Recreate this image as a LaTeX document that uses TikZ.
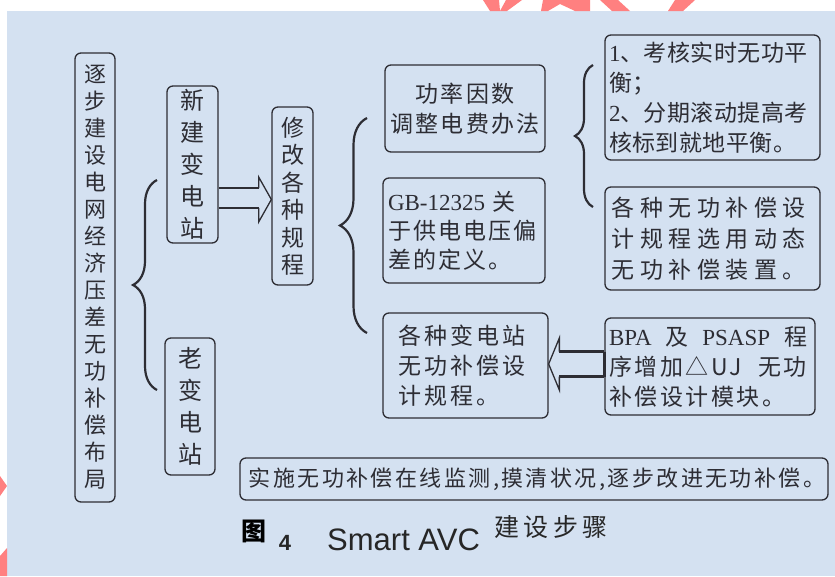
\documentclass[tikz,border=0pt]{standalone}
\usepackage{fontspec}
\setmainfont{Liberation Serif}
\newfontfamily\cjk{Noto Sans CJK SC}
\newfontfamily\capsans{Liberation Sans}
\usetikzlibrary{decorations.pathreplacing,calc}
\definecolor{bg}{RGB}{212,225,241}
\definecolor{ink}{RGB}{45,45,52}
\definecolor{wm}{RGB}{255,128,128}
\newcommand{\cz}[3]{\cjk\fontsize{#1}{#2}\selectfont\addfontfeatures{LetterSpace=#3}}
\tikzset{
  box/.style={draw=ink, line width=1.3pt, rounded corners=6pt, inner sep=0pt, text=ink},
  vbox/.style={box, align=center},
  tbox/.style={box, align=left},
  bracestyle/.style={draw=ink, line width=2.2pt, decorate, decoration={brace, amplitude=#1}},
  shaft/.style={draw=ink, line width=2.4pt},
  head/.style={draw=ink, line width=1.3pt, line join=miter},
}
\begin{document}
\begin{tikzpicture}[x=1pt,y=1pt]
\useasboundingbox (0,0) rectangle (835,-576);
\fill[white] (0,0) rectangle (835,-576);
\fill[bg] (7,-11) rectangle (835,-576);
% watermark remnants
\fill[wm] (483,0) -- (499,0) -- (500,-11) -- (490,-11) -- cycle;
\fill[wm] (506,0) -- (522,0) -- (507,-11) -- (500,-11) -- cycle;
\fill[wm] (543,0) -- (590,0) -- (590,-11) -- (575,-11) -- (560,-4) -- (548,-11) -- (541,-11) -- cycle;
\fill[wm] (600,0) -- (618,0) -- (630,-11) -- (612,-11) -- cycle;
\fill[wm] (675,0) -- (695,0) -- (683,-11) -- (668,-11) -- cycle;
\fill[wm] (0,-476) -- (7,-486) -- (0,-496) -- cycle;
\fill[wm] (0,-556) -- (7,-548) -- (7,-576) -- (0,-576) -- cycle;

% vertical boxes
\node[vbox, minimum width=40, minimum height=449, font=\cz{22}{27}{0}] (L) at (95,-277.5)
  {逐\\步\\建\\设\\电\\网\\经\\济\\压\\差\\无\\功\\补\\偿\\布\\局};
\node[vbox, minimum width=51, minimum height=157, font=\cz{24}{32}{0}] (nb) at (192.5,-164.5)
  {新\\建\\变\\电\\站};
\node[vbox, minimum width=50, minimum height=137, font=\cz{24}{32}{0}] (ob) at (190,-406.5)
  {老\\变\\电\\站};
\node[vbox, minimum width=41, minimum height=178, font=\cz{23}{27.5}{0}] (xg) at (292.5,-196)
  {修\\改\\各\\种\\规\\程};

% middle column
\node[box, align=center, minimum width=160, minimum height=87, text width=152, font=\cz{23}{30}{9}] (gl) at (465,-108.5)
  {功率因数\\调整电费办法};
\node[tbox, minimum width=162, minimum height=105, text width=152, font=\cz{23}{29}{9}] (gb) at (464,-230.5)
  {{\rmfamily GB-12325} 关\\于供电电压偏\\差的定义。};
\node[tbox, minimum width=165, minimum height=105, text width=134, font=\cz{23}{30}{13}] (gz) at (465.5,-365.5)
  {各种变电站\\无功补偿设\\计规程。};

% right column
\node[tbox, minimum width=215, minimum height=125, text width=207, font=\cz{23}{30}{2}] (kh) at (712.5,-97.5)
  {{\rmfamily 1}、考核实时无功平\\衡；\\{\rmfamily 2}、分期滚动提高考\\核标到就地平衡。};
\node[tbox, minimum width=215, minimum height=103, text width=202, font=\cz{23}{31}{24}] (sj) at (712.5,-238.5)
  {各种无功补偿设\\计规程选用动态\\无功补偿装置。};
\node[tbox, minimum width=210, minimum height=97, text width=202, font=\cz{23}{30}{11}] (bpa) at (710,-366.5)
  {\makebox[198pt][l]{{\rmfamily BPA}\hfill 及\hfill{\rmfamily PSASP}\hfill 程}\\\makebox[198pt][l]{序增加△UJ\hfill 无功}\\补偿设计模块。};

% bottom box
\node[box, minimum width=588, minimum height=42, font=\cz{22}{26}{11}] (ss) at (534,-479)
  {\hspace{6pt}实施无功补偿在线监测,摸清状况,逐步改进无功补偿。};

% caption
\node[text=black, font=\cjk\bfseries\fontsize{25}{27}\selectfont, inner sep=0] (c1) at (254,-531) {图};
\node[text=black!85, font=\capsans\bfseries\fontsize{22}{24}\selectfont, inner sep=0, anchor=base] (c2) at (285,-550) {4};
\node[text=black!85, font=\capsans\fontsize{31}{33}\selectfont, inner sep=0, anchor=base west] (c3) at (327,-550) {Smart AVC};
\node[text=black!85, font=\cz{25}{27}{18}, inner sep=0, anchor=west] (c4) at (494,-527) {建设步骤};

% braces
\coordinate (b1a) at (157,-390);
\coordinate (b1b) at (157,-180);
\draw[bracestyle=24pt] (b1a) -- (b1b);
\coordinate (b2a) at (367,-333);
\coordinate (b2b) at (367,-118);
\draw[bracestyle=27pt] (b2a) -- (b2b);
\coordinate (b3a) at (593,-207);
\coordinate (b3b) at (593,-65);
\draw[bracestyle=18pt] (b3a) -- (b3b);

% hollow arrow nb -> xg
\coordinate (a1) at ([yshift=-35]nb.east);
\draw[shaft] ($(a1)+(0,11.5)$) -- ($(a1)+(40,11.5)$);
\draw[shaft] ($(a1)+(0,-8.5)$) -- ($(a1)+(40,-8.5)$);
\draw[head] ($(a1)+(40,11.5)$) -- ($(a1)+(40,22.5)$) -- (a1 -| xg.west) -- ($(a1)+(40,-22.5)$) -- ($(a1)+(40,-8.5)$);

% hollow arrow bpa -> gz
\coordinate (a2) at ([yshift=2.5]bpa.west);
\draw[shaft] ($(a2)+(0,12.5)$) -- ($(a2)+(-45,12.5)$);
\draw[shaft] ($(a2)+(0,-12.5)$) -- ($(a2)+(-45,-12.5)$);
\draw[shaft] ($(a2)+(0,12.5)$) -- ($(a2)+(0,-12.5)$);
\draw[head] ($(a2)+(-45,12.5)$) -- ($(a2)+(-45,26)$) -- (a2 -| gz.east) -- ($(a2)+(-45,-26)$) -- ($(a2)+(-45,-12.5)$);
\end{tikzpicture}
\end{document}
